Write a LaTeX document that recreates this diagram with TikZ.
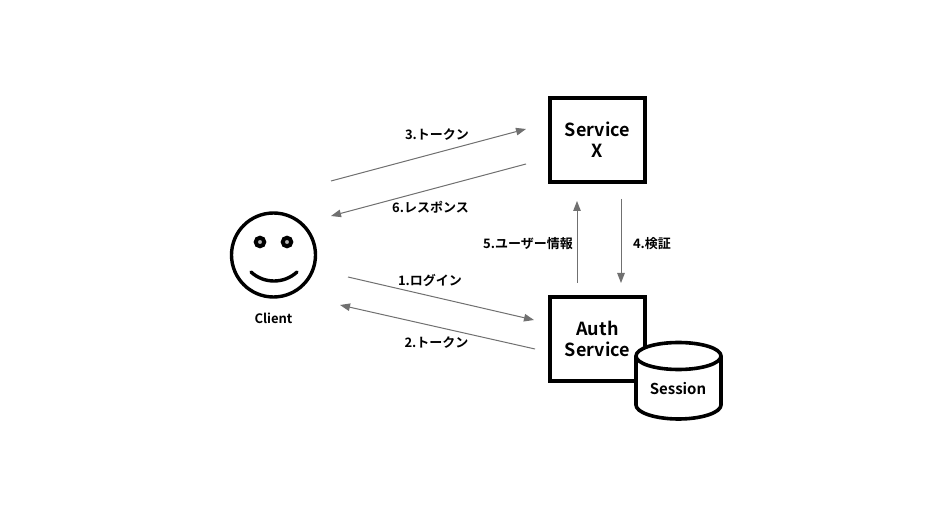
\documentclass[tikz,border=0pt]{standalone}
\usepackage{fontspec}
\setmainfont{Noto Sans CJK JP}[BoldFont={Noto Sans CJK JP Bold}]
\usetikzlibrary{arrows.meta}
\definecolor{conn}{HTML}{707070}
\definecolor{eyefill}{HTML}{B8B8B8}
\tikzset{
  x=1pt,y=-1pt,
  box/.style={draw=black,line width=3.6pt,fill=white,minimum width=95pt,minimum height=84pt,inner sep=0pt,align=center,font=\bfseries\fontsize{18}{21}\selectfont},
  eye/.style={draw=black,fill=eyefill,line width=4pt,circle,minimum size=8.5pt,inner sep=0pt},
  conn/.style={draw=conn,line width=1pt,-{Triangle[length=10pt,width=7.5pt]}},
  lab/.style={font=\bfseries\fontsize{13}{15}\selectfont,inner sep=0pt,text=black},
  shapeline/.style={draw=black,line width=3.6pt,fill=white,line join=round,line cap=round}
}
\begin{document}
\begin{tikzpicture}
\useasboundingbox (0,0) rectangle (926,518);
\fill[white] (0,0) rectangle (926,518);
% face
\node[draw=black,line width=3.4pt,circle,minimum size=84pt,inner sep=0pt] (face) at (273.5,255) {};
\node[eye] (eyeL) at (260,242) {};
\node[eye] (eyeR) at (287,242) {};
\coordinate (mouthL) at (251,272);
\coordinate (mouthR) at (297,272);
\draw[black,line width=3.4pt,line cap=round] (mouthL) .. controls (264,284) and (284,284) .. (mouthR);
\node[lab] (client) at (273.5,318.5) {Client};
% boxes
\node[box] (svc) at (597.5,140) {Service\\X};
\node[box] (auth) at (597.5,339) {Auth\\Service};
% cylinder
\path[shapeline] (636,356) -- (636,405)
  .. controls (636,412.5) and (655,419) .. (678.5,419)
  .. controls (702,419) and (721,412.5) .. (721,405)
  -- (721,356)
  .. controls (721,348.5) and (702,342.5) .. (678.5,342.5)
  .. controls (655,342.5) and (636,348.5) .. (636,356) -- cycle;
\draw[shapeline,fill=none] (636,356)
  .. controls (636,363.5) and (655,369.5) .. (678.5,369.5)
  .. controls (702,369.5) and (721,363.5) .. (721,356);
\node[lab,font=\bfseries\fontsize{15}{17}\selectfont] (session) at (678,389) {Session};
% connector ends
\coordinate (a3) at (331,181); \coordinate (b3) at (526,129);
\coordinate (a6) at (526,164); \coordinate (b6) at (331,216);
\coordinate (a1) at (348,277); \coordinate (b1) at (534,320);
\coordinate (a2) at (535,349); \coordinate (b2) at (340,305);
\coordinate (a5) at (577,283); \coordinate (b5) at (577,201);
\coordinate (a4) at (621,199); \coordinate (b4) at (621,283);
\draw[conn] (a3) -- (b3);
\draw[conn] (a6) -- (b6);
\draw[conn] (a1) -- (b1);
\draw[conn] (a2) -- (b2);
\draw[conn] (a5) -- (b5);
\draw[conn] (a4) -- (b4);
% labels
\node[lab] (l3) at (437,134.5) {3.トークン};
\node[lab] (l6) at (430.5,207.5) {6.レスポンス};
\node[lab] (l1) at (430,280.5) {1.ログイン};
\node[lab] (l2) at (436.5,342.5) {2.トークン};
\node[lab] (l5) at (528,243.5) {5.ユーザー情報};
\node[lab] (l4) at (652,243.5) {4.検証};
\end{tikzpicture}
\end{document}
